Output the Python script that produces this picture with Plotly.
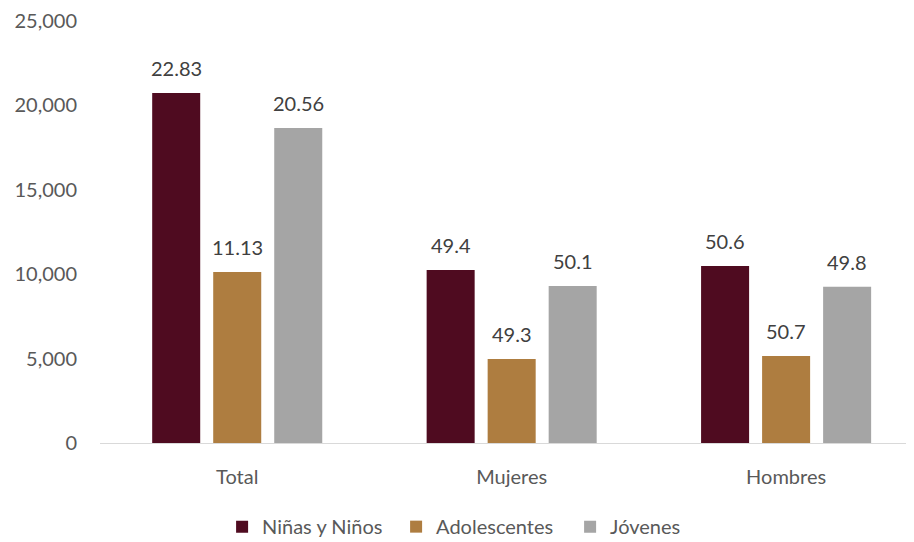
import plotly.graph_objects as go

categories = ["Total", "Mujeres", "Hombres"]
series_names = ["Niñas y Niños", "Adolescentes", "Jóvenes"]
ninos = [20730, 10250, 10480]
adolescentes = [10130, 4970, 5150]
jovenes = [18660, 9300, 9250]
labels_ninos = ["22.83", "49.4", "50.6"]
labels_adol = ["11.13", "49.3", "50.7"]
labels_jov = ["20.56", "50.1", "49.8"]
colors = ["#4F0B20", "#AE7D40", "#A5A5A5"]
y_ticks = [0, 5000, 10000, 15000, 20000, 25000]

values = [ninos, adolescentes, jovenes]
labels = [labels_ninos, labels_adol, labels_jov]

FONT = "Lato"
fig = go.Figure()
for name, vals, col in zip(series_names, values, colors):
    fig.add_trace(go.Bar(x=categories, y=vals, name=name, marker_color=col,
                         marker_line_width=0))

slot = (1 - 0.333) / 3
annotations = []
for j, (vals, labs) in enumerate(zip(values, labels)):
    for i, (v, t) in enumerate(zip(vals, labs)):
        annotations.append(dict(x=i + (j - 1) * slot, y=v, xref="x", yref="y",
                                text=t, showarrow=False, yanchor="bottom",
                                yshift=11,
                                font=dict(family=FONT, size=20, color="#404040")))

fig.update_layout(
    width=906, height=534,
    margin=dict(l=92, r=0, t=13, b=99, autoexpand=False),
    paper_bgcolor="white", plot_bgcolor="white",
    barmode="group", bargap=0.333, bargroupgap=0.213,
    font=dict(family=FONT, size=20, color="#595959"),
    annotations=annotations,
    legend=dict(orientation="h", x=0.15, xanchor="left", y=-0.152, yanchor="top",
                font=dict(family=FONT, size=20, color="#595959"),
                itemwidth=30, traceorder="normal",
                entrywidth=129, entrywidthmode="pixels"),
    xaxis=dict(range=[-0.5, 2.466], showline=True, linecolor="#D9D9D9", linewidth=1,
               ticks="", showgrid=False, automargin=False, ticklabelstandoff=16,
               tickfont=dict(size=20, color="#595959")),
    yaxis=dict(range=[0, 25000], tickvals=y_ticks, tickformat=",", showgrid=False,
               zeroline=False, showline=False, ticks="", automargin=False,
               tickfont=dict(size=20, color="#595959"), ticklabelstandoff=22),
)
fig.write_html("out.html")
